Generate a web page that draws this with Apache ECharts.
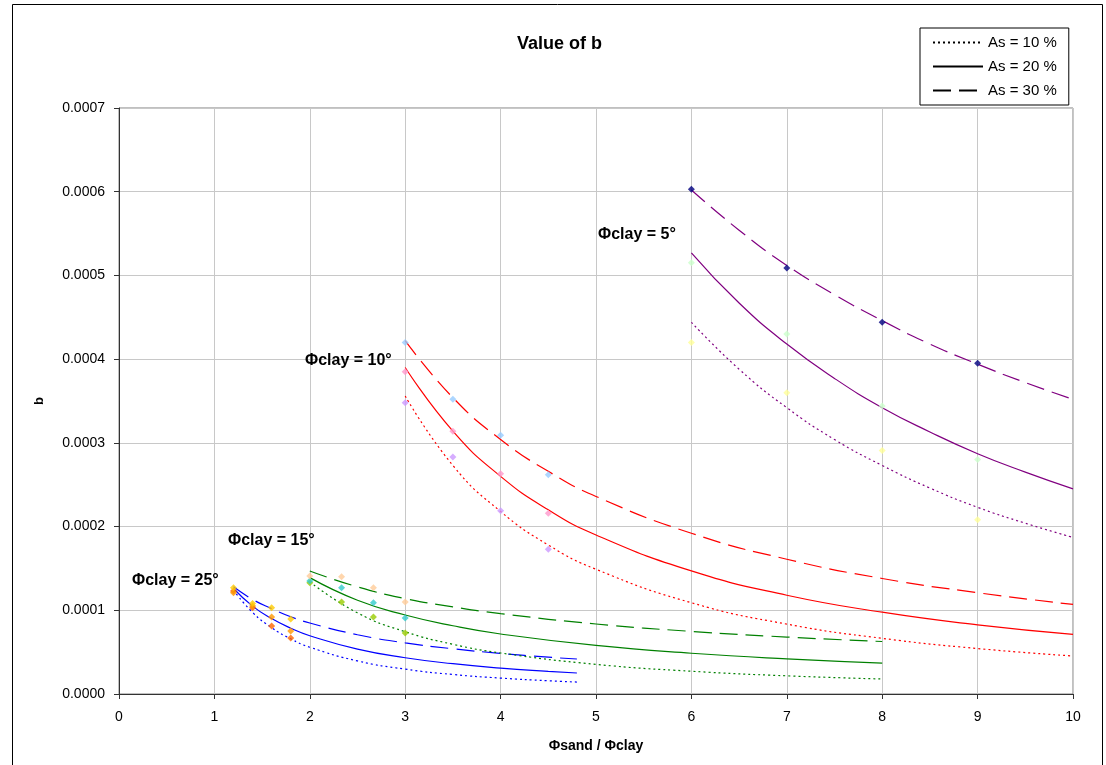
<!DOCTYPE html>
<html>
<head>
<meta charset="utf-8">
<script src="https://cdn.jsdelivr.net/npm/echarts@6/dist/echarts.min.js"></script>
<style>
html,body{margin:0;padding:0;background:#fff;}
#chart{width:1106px;height:765px;}
</style>
</head>
<body>
<div id="chart"></div>
<script>
// ---- Trend curves ----
const blueX  = [1.2, 1.4, 1.6, 1.8, 2, 2.5, 3, 3.5, 4, 4.5, 4.8];
const blue10 = [0.000124, 0.0000975, 0.0000792, 0.0000659, 0.0000559, 0.0000395, 0.0000297, 0.0000233, 0.0000190, 0.0000158, 0.0000143];
const blue20 = [0.000126, 0.000105, 0.0000901, 0.0000786, 0.0000696, 0.0000536, 0.0000433, 0.0000362, 0.0000310, 0.0000271, 0.0000251];
const blue30 = [0.000128, 0.000113, 0.000102, 0.0000923, 0.0000848, 0.0000708, 0.0000611, 0.0000540, 0.0000485, 0.0000440, 0.0000418];

const greenX  = [2, 2.5, 3, 3.5, 4, 5, 6, 7, 8];
const green10 = [0.000134, 0.0000969, 0.0000744, 0.0000594, 0.0000490, 0.0000354, 0.0000272, 0.0000217, 0.0000179];
const green20 = [0.000139, 0.000112, 0.0000944, 0.0000815, 0.0000717, 0.0000580, 0.0000487, 0.0000420, 0.0000370];
const green30 = [0.000147, 0.000128, 0.000114, 0.000104, 0.0000960, 0.0000836, 0.0000748, 0.0000680, 0.0000627];

const redX  = [3, 3.5, 4, 4.5, 5, 6, 7, 8, 9, 10];
const red10 = [0.000356, 0.000273, 0.000218, 0.000178, 0.000149, 0.000109, 0.0000835, 0.0000665, 0.0000543, 0.0000454];
const red20 = [0.000390, 0.000314, 0.000260, 0.000220, 0.000190, 0.000147, 0.000118, 0.0000977, 0.0000826, 0.0000712];
const red30 = [0.000422, 0.000354, 0.000304, 0.000266, 0.000236, 0.000192, 0.000161, 0.000138, 0.000121, 0.000107];

const purpleX  = [6, 6.5, 7, 7.5, 8, 8.5, 9, 9.5, 10];
const purple10 = [0.000444, 0.000388, 0.000342, 0.000304, 0.000273, 0.000246, 0.000223, 0.000204, 0.000187];
const purple20 = [0.000527, 0.000467, 0.000418, 0.000377, 0.000342, 0.000313, 0.000287, 0.000265, 0.000245];
const purple30 = [0.000602, 0.000554, 0.000512, 0.000477, 0.000446, 0.000418, 0.000394, 0.000372, 0.000352];

// ---- Measured points ----
const ptX25  = [1.2, 1.4, 1.6, 1.8];
const pt25_10 = [0.000123, 0.000103, 0.0000812, 0.0000669];
const pt25_20 = [0.000121, 0.000105, 0.0000920, 0.0000753];
const pt25_30 = [0.000127, 0.000108, 0.000103, 0.0000896];

const ptX15  = [2, 2.333, 2.667, 3];
const pt15_10 = [0.000133, 0.000110, 0.0000920, 0.0000729];
const pt15_20 = [0.000135, 0.000127, 0.000109, 0.0000908];
const pt15_30 = [0.000141, 0.000140, 0.000127, 0.000110];

const ptX10  = [3, 3.5, 4, 4.5];
const pt10_10 = [0.000348, 0.000283, 0.000219, 0.000173];
const pt10_20 = [0.000385, 0.000314, 0.000263, 0.000216];
const pt10_30 = [0.000420, 0.000352, 0.000309, 0.000262];

const ptX5  = [6, 7, 8, 9];
const pt5_10 = [0.000420, 0.000360, 0.000291, 0.000208];
const pt5_20 = [0.000515, 0.000430, 0.000344, 0.000280];
const pt5_30 = [0.000603, 0.000509, 0.000444, 0.000395];

const legendNames = ['As = 10 %', 'As = 20 %', 'As = 30 %'];
const groupLabels = ['\u03A6clay = 5\u00B0', '\u03A6clay = 10\u00B0', '\u03A6clay = 15\u00B0', '\u03A6clay = 25\u00B0'];

const FONT = '"Liberation Sans", Arial, sans-serif';
const dashTypes = [[2, 3], 'solid', [18, 8]];

function pairs(xs, ys) { return xs.map((x, i) => [x, ys[i]]); }

function curve(xs, ys, color, k) {
  return {
    type: 'line', data: pairs(xs, ys), smooth: true, showSymbol: false, symbol: 'none',
    silent: true, z: 3,
    lineStyle: { color: color, width: 1.2, type: dashTypes[k] }
  };
}
function pts(xs, ys, color) {
  return {
    type: 'scatter', data: pairs(xs, ys), symbol: 'diamond', symbolSize: 7,
    itemStyle: { color: color }, z: 4, silent: true
  };
}

const series = [
  curve(blueX, blue10, '#0000FF', 0), curve(blueX, blue20, '#0000FF', 1), curve(blueX, blue30, '#0000FF', 2),
  curve(greenX, green10, '#008000', 0), curve(greenX, green20, '#008000', 1), curve(greenX, green30, '#008000', 2),
  curve(redX, red10, '#FF0000', 0), curve(redX, red20, '#FF0000', 1), curve(redX, red30, '#FF0000', 2),
  curve(purpleX, purple10, '#800080', 0), curve(purpleX, purple20, '#800080', 1), curve(purpleX, purple30, '#800080', 2),
  pts(ptX25, pt25_10, '#FF6600'), pts(ptX25, pt25_20, '#FF9900'), pts(ptX25, pt25_30, '#FFCC00'),
  pts(ptX15, pt15_10, '#99CC00'), pts(ptX15, pt15_20, '#33CCCC'), pts(ptX15, pt15_30, '#FFCC99'),
  pts(ptX10, pt10_10, '#CC99FF'), pts(ptX10, pt10_20, '#FF99CC'), pts(ptX10, pt10_30, '#99CCFF'),
  pts(ptX5, pt5_10, '#FFFF99'), pts(ptX5, pt5_20, '#CCFFCC'), pts(ptX5, pt5_30, '#000080')
];
legendNames.forEach((n, k) => {
  series.push({ type: 'line', name: n, data: [], symbol: 'none', showSymbol: false,
    lineStyle: { color: '#000', width: 1, type: dashTypes[k] }, itemStyle: { color: '#000', opacity: 0 } });
});

const labelPos = [[598, 227], [305, 353], [228, 533], [132, 573]];

const chart = echarts.init(document.getElementById('chart'), null, { renderer: 'canvas' });
chart.setOption({
  animation: false,
  backgroundColor: '#fff',
  title: {
    text: 'Value of b', left: 512, top: 30,
    textStyle: { fontFamily: FONT, fontSize: 18, fontWeight: 'bold', color: '#000' }
  },
  legend: {
    data: legendNames, orient: 'vertical', left: 920, top: 28,
    padding: [7, 12, 7, 12], itemGap: 9, itemWidth: 50, itemHeight: 14,
    borderColor: '#000', borderWidth: 1, backgroundColor: '#fff',
    itemStyle: { opacity: 0 },
    textStyle: { fontFamily: FONT, fontSize: 15, color: '#000' },
    selectedMode: false
  },
  grid: { left: 119, right: 33, top: 108, bottom: 71, show: true, borderColor: '#808080', borderWidth: 1 },
  xAxis: {
    type: 'value', min: 0, max: 10, interval: 1,
    name: '\u03A6sand / \u03A6clay', nameLocation: 'middle', nameGap: 45,
    nameTextStyle: { fontFamily: FONT, fontSize: 14, fontWeight: 'bold', color: '#000' },
    axisLine: { show: true, lineStyle: { color: '#333', width: 1 } },
    axisTick: { show: true, inside: false, length: 5, lineStyle: { color: '#333' } },
    axisLabel: { fontFamily: FONT, fontSize: 14, color: '#000', margin: 16 },
    splitLine: { show: true, lineStyle: { color: '#C8C8C8', width: 1 } }
  },
  yAxis: {
    type: 'value', min: 0, max: 0.0007, interval: 0.0001,
    name: 'b', nameLocation: 'middle', nameGap: 73, nameRotate: 90,
    nameTextStyle: { fontFamily: FONT, fontSize: 13, fontWeight: 'bold', color: '#000' },
    axisLine: { show: true, lineStyle: { color: '#333', width: 1 } },
    axisTick: { show: true, inside: false, length: 5, lineStyle: { color: '#333' } },
    axisLabel: { fontFamily: FONT, fontSize: 14, color: '#000', margin: 14,
      formatter: v => v.toFixed(4) },
    splitLine: { show: true, lineStyle: { color: '#C8C8C8', width: 1 } }
  },
  graphic: [
    { type: 'rect', left: 10, top: 2, silent: true, z: -10,
      shape: { width: 1090, height: 761 }, style: { fill: 'none', stroke: '#000', lineWidth: 1 } }
  ].concat(groupLabels.map((t, i) => ({
    type: 'text', left: labelPos[i][0], top: labelPos[i][1], z: 10, silent: true,
    style: { text: t, fontFamily: FONT, fontSize: 16, fontWeight: 'bold', fill: '#000' }
  }))),
  series: series
});
</script>
</body>
</html>
